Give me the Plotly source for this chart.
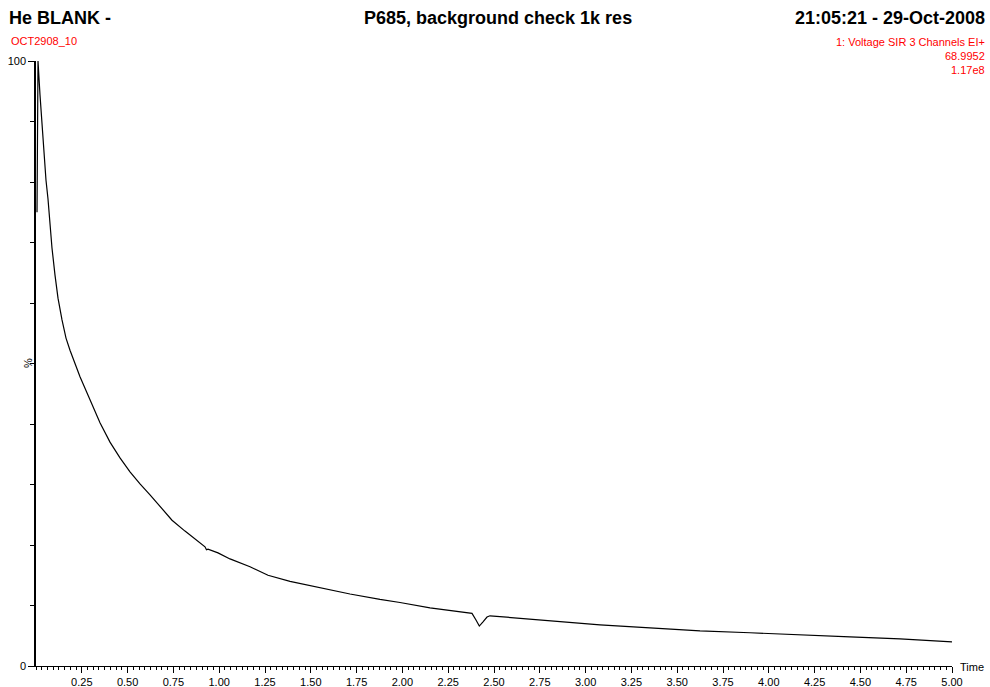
import plotly.graph_objects as go

# Data (time in minutes, intensity in %)
time_min = [0.0055, 0.0109, 0.0218, 0.0328, 0.0437, 0.0546, 0.0655, 0.0764, 0.0873,
            0.1037, 0.1201, 0.1419, 0.1638, 0.1856, 0.2129, 0.2402, 0.2948, 0.3493,
            0.4039, 0.4585, 0.5131, 0.5677, 0.6223, 0.6769, 0.7424, 0.8133, 0.8679,
            0.9225, 0.9307, 0.9389, 0.9934, 1.0590, 1.1681, 1.2664, 1.3865, 1.5502,
            1.7140, 1.8777, 1.9869, 2.1507, 2.2598, 2.3799, 2.4017, 2.4198, 2.4400,
            2.4618, 2.4782, 2.6419, 2.8057, 3.0786, 3.3515, 3.6245, 3.8974, 4.1703,
            4.4432, 4.7162, 5.0000]
intensity = [75.0, 100.0, 94.4, 89.4, 84.5, 80.3, 77.2, 72.9, 69.1,
             64.6, 60.8, 57.2, 54.2, 52.2, 49.9, 47.8, 44.0, 40.2,
             37.0, 34.4, 32.1, 30.1, 28.3, 26.4, 24.1, 22.3, 21.0,
             19.7, 19.2, 19.3, 18.7, 17.7, 16.4, 15.0, 14.0, 12.9,
             11.9, 11.0, 10.5, 9.6, 9.2, 8.7, 7.6, 6.6, 7.3,
             8.1, 8.3, 7.9, 7.4, 6.8, 6.3, 5.8, 5.5, 5.1,
             4.8, 4.5, 4.0]

x_tick_vals = [0.25 * i for i in range(1, 21)]
x_tick_text = ["%.2f" % v for v in x_tick_vals]
y_tick_vals = [0, 100]
y_tick_text = ["0", "100"]

title_left = "He BLANK -"
title_center = "P685, background check 1k res"
title_right = "21:05:21 - 29-Oct-2008"
sub_left = "OCT2908_10"
sub_right = ["1: Voltage SIR 3 Channels EI+", "68.9952", "1.17e8"]

FONT = "Liberation Sans, Arial, Helvetica, sans-serif"

W, H = 990, 687
L, R, T, B = 36, 38, 61, 21
PW, PH = W - L - R, H - T - B


def px(x):
    return (x - L) / PW


def py(y):
    return (H - B - y) / PH


fig = go.Figure()
fig.add_trace(go.Scatter(x=time_min, y=intensity, mode="lines",
                         line=dict(color="black", width=1.2), hoverinfo="skip",
                         showlegend=False))

ann = []
ann.append(dict(text="<b>%s</b>" % title_left, x=px(8), y=py(18), xanchor="left",
                yanchor="middle", font=dict(size=18, color="black", family=FONT)))
ann.append(dict(text="<b>%s</b>" % title_center, x=px(498), y=py(18), xanchor="center",
                yanchor="middle", font=dict(size=18, color="black", family=FONT)))
ann.append(dict(text="<b>%s</b>" % title_right, x=px(986), y=py(18), xanchor="right",
                yanchor="middle", font=dict(size=18, color="black", family=FONT)))
ann.append(dict(text=sub_left, x=px(10), y=py(41), xanchor="left", yanchor="middle",
                font=dict(size=11, color="red", family=FONT)))
for txt, yy in zip(sub_right, [42, 56, 70.5]):
    ann.append(dict(text=txt, x=px(986), y=py(yy), xanchor="right", yanchor="middle",
                    font=dict(size=11, color="red", family=FONT)))
ann.append(dict(text="%", x=px(28), y=py(363), xanchor="center", yanchor="middle",
                textangle=-90, font=dict(size=11, color="black", family=FONT)))
ann.append(dict(text="Time", x=px(959), y=py(667), xanchor="left", yanchor="middle",
                font=dict(size=11, color="black", family=FONT)))
for a in ann:
    a.update(xref="paper", yref="paper", showarrow=False, borderpad=0)

fig.update_layout(
    width=W, height=H,
    margin=dict(l=L, r=R, t=T, b=B, pad=0, autoexpand=False),
    paper_bgcolor="white", plot_bgcolor="white",
    font=dict(family=FONT, size=11, color="black"),
    annotations=ann,
    xaxis=dict(range=[0, 5.0], tickmode="array", tickvals=x_tick_vals,
               ticktext=x_tick_text, ticks="outside", ticklen=6, tickwidth=1,
               tickcolor="black", showline=True, linecolor="black", linewidth=1,
               showgrid=False, zeroline=False, automargin=False,
               minor=dict(dtick=0.03125, tick0=0, ticks="outside", ticklen=3,
                          tickcolor="black", tickwidth=1, showgrid=False),
               tickfont=dict(size=11, family=FONT, color="black")),
    yaxis=dict(range=[0, 100], tickmode="array", tickvals=y_tick_vals,
               ticktext=y_tick_text, ticks="outside", ticklen=6, tickwidth=1,
               tickcolor="black", showline=True, linecolor="black", linewidth=1.5,
               showgrid=False, zeroline=False, automargin=False,
               minor=dict(dtick=10, tick0=0, ticks="outside", ticklen=4,
                          tickcolor="black", tickwidth=1, showgrid=False),
               tickfont=dict(size=11, family=FONT, color="black")),
)

fig.write_html("out.html")
